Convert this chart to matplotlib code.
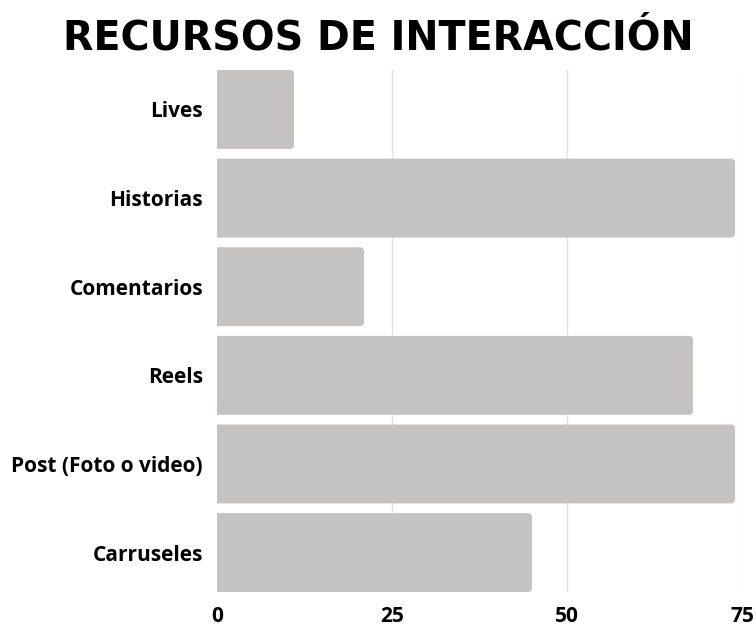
import matplotlib.pyplot as plt
from matplotlib.patches import FancyBboxPatch

categories = ["Lives", "Historias", "Comentarios", "Reels",
              "Post (Foto o video)", "Carruseles"]
values = [11, 74, 21, 68, 74, 45]
xticks = [0, 25, 50, 75]

fig = plt.figure(figsize=(7.56, 6.28), dpi=100)
ax = fig.add_axes([0.287, 0.0573, 0.6945, 0.8312])

bar_h = 0.89
bars = ax.barh(range(len(values)), values, height=bar_h, color="none")

# swap the plain rectangles for ones with rounded ends
for b in bars:
    x, y = b.get_x(), b.get_y()
    w, h = b.get_width(), b.get_height()
    p = FancyBboxPatch((x - 2, y), w + 2, h,
                       boxstyle="round,pad=0,rounding_size=0.6",
                       mutation_aspect=0.079,
                       fc="#c5c2c2", ec="none", zorder=2)
    ax.add_patch(p)

ax.set_xlim(0, 75)
ax.set_ylim(len(values) - 1 + bar_h / 2, -bar_h / 2)
ax.set_xticks(xticks)
ax.set_yticks(range(len(categories)))
ax.set_yticklabels(categories)

for t in xticks[1:]:
    ax.axvline(t, color="#e3e3e3", lw=1, zorder=0)

for s in ax.spines.values():
    s.set_visible(False)
ax.tick_params(length=0, labelsize=15)
ax.tick_params(axis="y", pad=10)
ax.tick_params(axis="x", pad=10)
for lbl in ax.get_xticklabels() + ax.get_yticklabels():
    lbl.set_fontfamily("Open Sans")
    lbl.set_fontweight("bold")

fig.text(0.5, 0.939, "RECURSOS DE INTERACCIÓN", ha="center", va="center",
         fontsize=28.5, fontweight="heavy", family="DejaVu Sans")

fig.savefig("out.png", dpi=100)
